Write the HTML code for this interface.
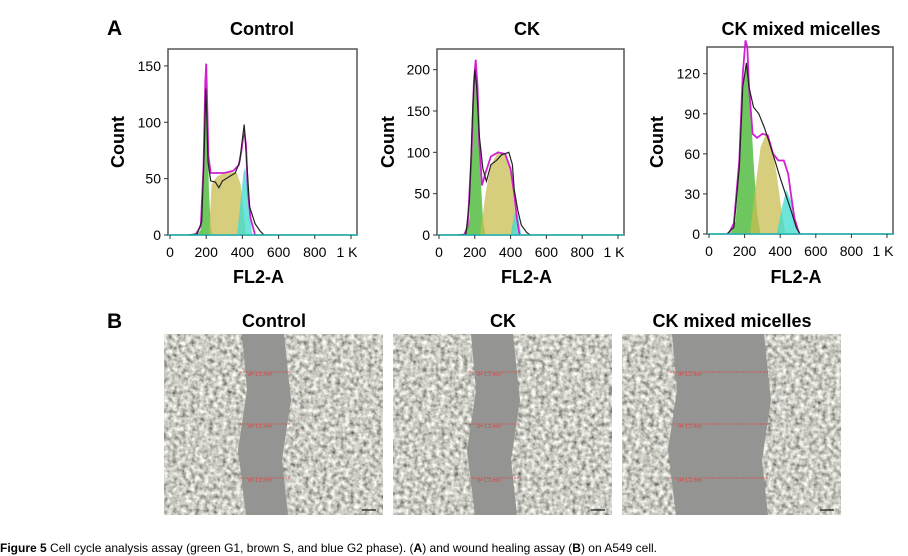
<!DOCTYPE html>
<html><head><meta charset="utf-8"><style>
body{margin:0;background:#fff;width:908px;height:556px;overflow:hidden;font-family:"Liberation Sans",Arial,sans-serif}
svg{position:absolute;left:0;top:0}
</style></head><body>
<svg id="fig" width="908" height="556">
<defs>
<filter id="cells" x="0" y="0" width="100%" height="100%">
<feTurbulence type="fractalNoise" baseFrequency="0.22" numOctaves="2" seed="3"/>
<feColorMatrix type="matrix" values="1.3 0 0 0 -0.05  1.3 0 0 0 -0.05  1.25 0 0 0 -0.07  0 0 0 0 1"/>
</filter>
</defs>
<g id="panelA"></g>
<g id="panelB"></g>
<text x="0" y="552" font-size="12"><tspan font-weight="bold">Figure 5</tspan> Cell cycle analysis assay (green G1, brown S, and blue G2 phase). (<tspan font-weight="bold">A</tspan>) and wound healing assay (<tspan font-weight="bold">B</tspan>) on A549 cell.</text>
</svg>
<script>
// ---- data ----
const chartTitles = ["Control", "CK", "CK mixed micelles"];
const xTicks = [0, 200, 400, 600, 800, 1000];
const xTickLabels = ["0", "200", "400", "600", "800", "1 K"];
const yTicks1 = [0, 50, 100, 150];
const yTicks2 = [0, 50, 100, 150, 200];
const yTicks3 = [0, 30, 60, 90, 120];
const yMax = [165, 225, 140];

// Control
const c1G1x = [150,170,185,195,200,205,215,225,235];
const c1G1y = [0,5,40,120,140,110,40,8,0];
const c1Sx = [215,230,260,300,340,370,390,410,420];
const c1Sy = [0,45,52,55,56,55,45,15,0];
const c1G2x = [370,390,405,415,425,440,455];
const c1G2y = [0,30,55,60,50,20,0];
const c1Fx = [140,170,185,195,200,205,212,225,260,300,350,380,395,405,412,420,430,445,470];
const c1Fy = [0,8,60,135,152,120,70,55,55,55,57,62,75,88,90,80,40,15,0];
const c1Dx = [100,150,175,190,197,202,210,225,250,270,290,310,330,360,385,400,410,420,440,470,500,520];
const c1Dy = [0,1,12,80,130,110,65,48,47,42,48,50,52,55,65,85,98,75,25,10,3,0];
// CK
const c2G1x = [150,170,185,195,205,215,230,245,260];
const c2G1y = [0,20,110,185,205,170,80,20,0];
const c2Sx = [230,260,290,330,370,400,420,435];
const c2Sy = [0,50,85,100,98,80,40,0];
const c2G2x = [400,420,435,445,460];
const c2G2y = [0,25,30,20,0];
const c2Fx = [140,160,180,195,205,215,225,240,260,290,330,370,400,420,435,450];
const c2Fy = [0,10,90,185,212,180,110,60,75,95,100,98,80,50,20,0];
const c2Dx = [100,150,170,190,200,210,225,245,265,290,320,350,390,410,420,440,460,490,510];
const c2Dy = [0,1,40,160,200,180,120,80,65,85,90,97,100,85,55,30,12,3,0];
// CK mixed micelles
const c3G1x = [120,150,170,190,210,230,250,270,290];
const c3G1y = [0,10,50,105,128,105,55,15,0];
const c3Sx = [230,260,290,320,350,380,410,430];
const c3Sy = [0,35,65,75,68,45,15,0];
const c3G2x = [380,410,435,460,480,500];
const c3G2y = [0,20,33,25,10,0];
const c3Fx = [110,140,170,190,205,215,225,245,270,300,330,360,390,420,445,460,480,500,510];
const c3Fy = [0,8,55,120,145,140,110,75,72,75,74,60,55,55,45,30,12,3,0];
const c3Dx = [100,140,170,190,210,225,250,280,310,340,370,400,430,460,490,510];
const c3Dy = [0,5,50,110,128,110,95,90,80,68,55,42,30,18,5,0];

const charts = [
 {left:168,right:357,top:49,base:235,yT:yTicks1,ymax:yMax[0],tx:262,lab:118,
  s:[[c1G1x,c1G1y],[c1Sx,c1Sy],[c1G2x,c1G2y]],f:[c1Fx,c1Fy],d:[c1Dx,c1Dy]},
 {left:437,right:624,top:49,base:235,yT:yTicks2,ymax:yMax[1],tx:527,lab:388,
  s:[[c2G1x,c2G1y],[c2Sx,c2Sy],[c2G2x,c2G2y]],f:[c2Fx,c2Fy],d:[c2Dx,c2Dy]},
 {left:707,right:893,top:47,base:234,yT:yTicks3,ymax:yMax[2],tx:801,lab:657,
  s:[[c3G1x,c3G1y],[c3Sx,c3Sy],[c3G2x,c3G2y]],f:[c3Fx,c3Fy],d:[c3Dx,c3Dy]}
];
const fills=["rgba(60,180,40,0.75)","rgba(200,190,80,0.75)","rgba(60,220,210,0.75)"];
const NS="http://www.w3.org/2000/svg";
function mk(p,tag,at,txt){const e=document.createElementNS(NS,tag);for(const k in at)e.setAttribute(k,at[k]);if(txt!==undefined)e.textContent=txt;p.appendChild(e);return e;}
const A=document.getElementById('panelA');
const a=mk(A,'text',{x:107,y:35,'font-size':21,'font-weight':'bold'},'A');


charts.forEach((c,i)=>{
 const g=mk(A,'g',{});
 
 
 const xs=v=>c.left+2+v/1000*(c.right-c.left-8);
 const ys=v=>c.base-v/c.ymax*(c.base-c.top);
 const t=mk(g,'text',{x:c.tx,y:35,'font-size':18,'font-weight':'bold','text-anchor':'middle'},chartTitles[i]);
 
 
 mk(g,'rect',{x:c.left,y:c.top,width:c.right-c.left,height:c.base-c.top,fill:'#fff',stroke:'#555','stroke-width':1.5});
 const pathOf=(X,Y,close)=>{let s='';X.forEach((x,k)=>s+=(k?'L':'M')+xs(x).toFixed(1)+','+ys(Y[k]).toFixed(1));return s+(close?'Z':'');};
 c.s.forEach((sr,k)=>{const p=mk(g,'path',{d:pathOf(sr[0],sr[1],true),fill:fills[k],stroke:'none'});
  
  });
 const fl=mk(g,'path',{d:pathOf(c.f[0],c.f[1]),fill:'none',stroke:'#d020d0','stroke-width':1.8});
 
 
 const dl=mk(g,'path',{d:pathOf(c.d[0],c.d[1]),fill:'none',stroke:'#222','stroke-width':1.2});
 
 
 mk(g,'line',{x1:c.left,y1:c.base,x2:c.right,y2:c.base,stroke:'#2bb','stroke-width':1.5});
 xTicks.forEach((v,k)=>{mk(g,'line',{x1:xs(v),y1:c.base,x2:xs(v),y2:c.base+4,stroke:'#333'});
  const tl=mk(g,'text',{x:xs(v)+(k==5?-4:0),y:c.base+22,'font-size':14,'text-anchor':'middle'},xTickLabels[k]);
  
  });
 c.yT.forEach(v=>{mk(g,'line',{x1:c.left-4,y1:ys(v),x2:c.left,y2:ys(v),stroke:'#333'});
  const tl=mk(g,'text',{x:c.left-7,y:ys(v)+5,'font-size':14,'text-anchor':'end'},String(v));
  
  });
 const xl=mk(g,'text',{x:(c.left+c.right)/2-4,y:283,'font-size':18,'font-weight':'bold','text-anchor':'middle'},'FL2-A');
 
 
 const yl=mk(g,'text',{x:0,y:0,'font-size':18,'font-weight':'bold','text-anchor':'middle',transform:`translate(${c.lab+6},142) rotate(-90)`},'Count');
 
 
});
// Panel B
const B=document.getElementById('panelB');
const b=mk(B,'text',{x:107,y:328,'font-size':21,'font-weight':'bold'},'B');


const imgX=[164,393,622], gapL=[[78,124],[78,124],[50,146]];
imgX.forEach((x0,i)=>{
 const g=mk(B,'g',{});
 
 
 const t=mk(g,'text',{x:x0+110,y:327,'font-size':18,'font-weight':'bold','text-anchor':'middle'},chartTitles[i]);
 
 
 mk(g,'rect',{x:x0,y:334,width:219,height:181,filter:'url(#cells)'});
 const gp=gapL[i];
 mk(g,'path',{d:`M${x0+gp[0]},334 L${x0+gp[1]-4},334 L${x0+gp[1]+3},400 L${x0+gp[1]-6},460 L${x0+gp[1]},515 L${x0+gp[0]+4},515 L${x0+gp[0]-4},450 L${x0+gp[0]+5},390Z`,fill:'#949492'});
 [372,424,478].forEach(y=>{mk(g,'line',{x1:x0+gp[0]-2,y1:y,x2:x0+gp[1]+2,y2:y,stroke:'#d44','stroke-width':0.8,'stroke-dasharray':'2,1'});
  mk(g,'text',{x:x0+gp[0]+6,y:y+4,'font-size':5,fill:'#d44'},'d= 1.1 mm');});
 mk(g,'line',{x1:x0+198,y1:510,x2:x0+212,y2:510,stroke:'#111','stroke-width':1.2});
});
</script>
</body></html>
